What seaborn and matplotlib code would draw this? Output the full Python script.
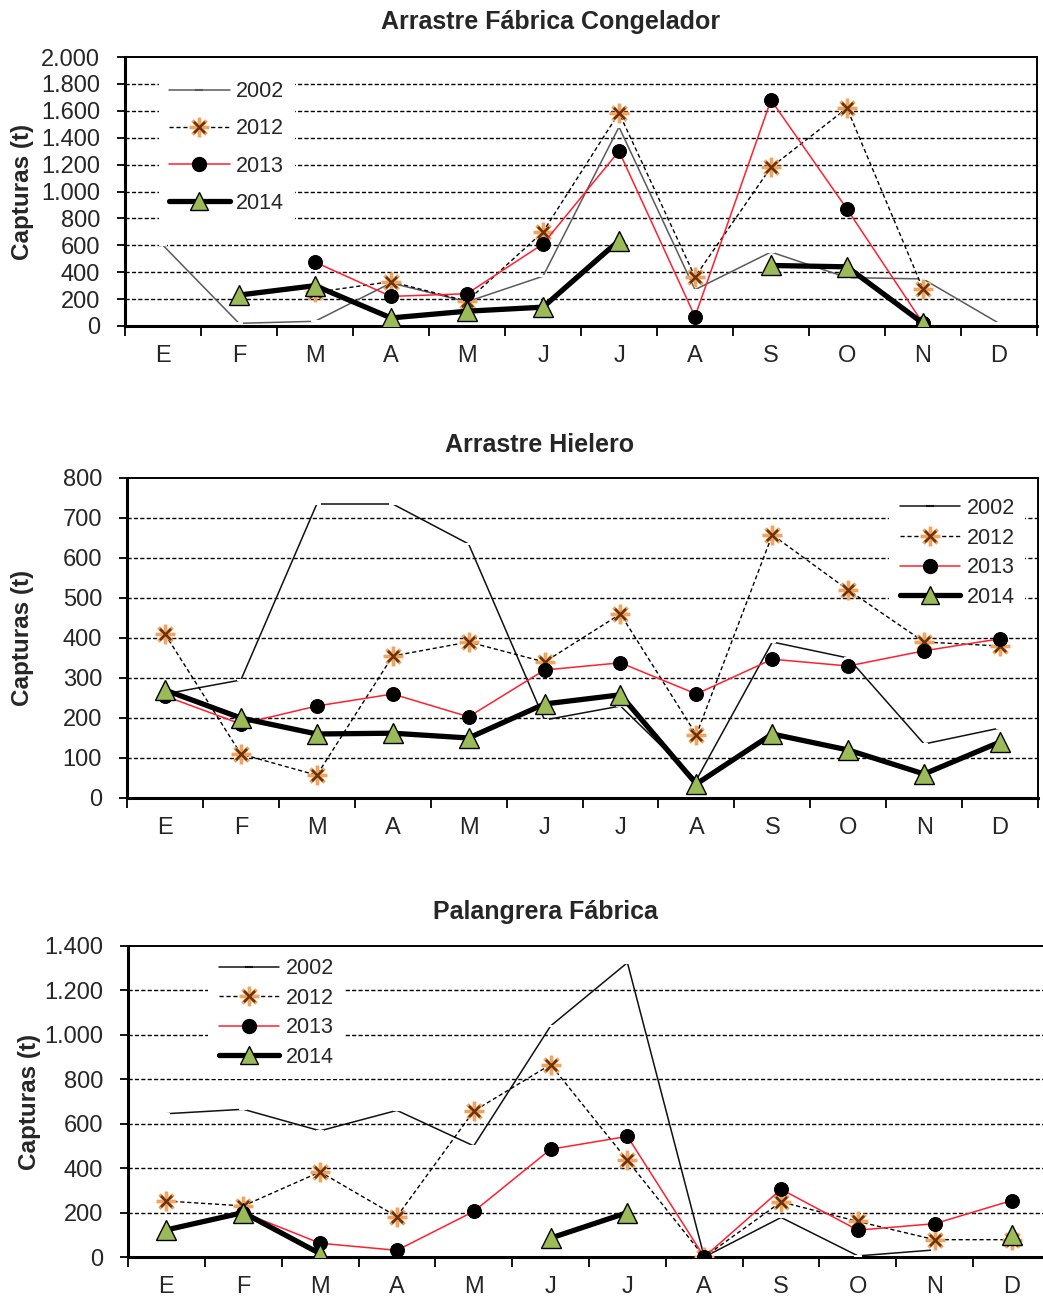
import numpy as np
import pandas as pd
import matplotlib
matplotlib.use("Agg")
import matplotlib.pyplot as plt
from matplotlib.lines import Line2D
from matplotlib.ticker import FuncFormatter, FixedLocator
import seaborn as sns

sns.set_theme(style="white")
plt.rcParams["font.family"] = ["Liberation Sans", "DejaVu Sans"]

months = ["E", "F", "M", "A", "M", "J", "J", "A", "S", "O", "N", "D"]
years = ["2002", "2012", "2013", "2014"]
nan = np.nan

# Arrastre Fábrica Congelador
afc_2002 = [600, 20, 35, 320, 180, 370, 1480, 270, 550, 360, 350, 20]
afc_2012 = [nan, nan, 250, 330, 185, 700, 1585, 365, 1180, 1620, 275, nan]
afc_2013 = [nan, nan, 475, 220, 240, 610, 1300, 70, 1680, 870, 20, nan]
afc_2014 = [nan, 230, 300, 60, 110, 140, 635, nan, 450, 440, 20, nan]

# Arrastre Hielero
ah_2002 = [260, 295, 735, 735, 635, 195, 230, 45, 390, 350, 135, 175]
ah_2012 = [410, 110, 57, 355, 390, 340, 460, 158, 658, 520, 390, 380]
ah_2013 = [255, 185, 230, 260, 203, 320, 338, 260, 347, 330, 368, 398]
ah_2014 = [270, 200, 160, 162, 150, 235, 258, 35, 160, 120, 60, 140]

# Palangrera Fábrica
pf_2002 = [645, 665, 568, 660, 500, 1040, 1325, 0, 178, 5, 32, nan]
pf_2012 = [252, 230, 383, 182, 657, 866, 435, 0, 248, 160, 78, 78]
pf_2013 = [nan, 200, 62, 30, 205, 485, 543, 0, 305, 121, 150, 254]
pf_2014 = [122, 200, 15, nan, nan, 85, 200, nan, nan, nan, nan, 100]

panels = [
    dict(title="Arrastre Fábrica Congelador",
         series=[afc_2002, afc_2012, afc_2013, afc_2014],
         ymax=2000, ystep=200, c2002="#5a5a5a",
         pos=[125, 57, 912, 269], title_xy=(551, 22), ylab_x=-0.1,
         leg=dict(loc="upper left", bbox=(0.025, 0.99), spacing=0.75)),
    dict(title="Arrastre Hielero",
         series=[ah_2002, ah_2012, ah_2013, ah_2014],
         ymax=800, ystep=100, c2002="#111111",
         pos=[127, 478, 911, 320], title_xy=(540, 445), ylab_x=-0.102,
         leg=dict(loc="upper right", bbox=(0.998, 1.005), spacing=0.4)),
    dict(title="Palangrera Fábrica",
         series=[pf_2002, pf_2012, pf_2013, pf_2014],
         ymax=1400, ystep=200, c2002="#111111",
         pos=[128, 946, 922, 311], title_xy=(545, 912), ylab_x=-0.094,
         leg=dict(loc="upper left", bbox=(0.075, 1.03), spacing=0.4)),
]

W, H = 1043, 1301
fig = plt.figure(figsize=(W / 100, H / 100), dpi=100)

ORANGE = "#f2a35e"
BROWN = "#6b3210"
GREEN = "#9bbb59"
RED = "#ff1f2f"


def runs(values):
    """Split a monthly series into contiguous runs of valid values."""
    out, cur = [], []
    for i, v in enumerate(values):
        if np.isnan(v):
            if cur:
                out.append(cur)
            cur = []
        else:
            cur.append(i)
    if cur:
        out.append(cur)
    return out


def draw_series(ax, values, **kw):
    vals = np.asarray(values, dtype=float)
    for idx in runs(vals):
        df = pd.DataFrame({"mes": idx, "capturas": vals[idx]})
        sns.lineplot(data=df, x="mes", y="capturas", ax=ax, legend=False,
                     sort=False, **kw)


def thousands(v, _):
    return f"{v:,.0f}".replace(",", ".")


for p in panels:
    x0, y0, w, h = p["pos"]
    ax = fig.add_axes([x0 / W, 1 - (y0 + h) / H, w / W, h / H])
    s2002, s2012, s2013, s2014 = p["series"]

    # dashed horizontal reference lines
    for yv in np.arange(p["ystep"], p["ymax"], p["ystep"]):
        ax.axhline(yv, color="black", lw=1.0, ls=(0, (3, 1.6)), zorder=0.5)

    draw_series(ax, s2002, color=p["c2002"], lw=1.1, marker="_",
                markersize=6, markeredgewidth=1.5, zorder=3)
    # 2012: dashed line, orange asterisk with dark cross
    draw_series(ax, s2012, color="black", lw=1.0, linestyle=(0, (3, 2)),
                zorder=3.2)
    draw_series(ax, s2012, color=ORANGE, linestyle="none", marker=(8, 2, 0),
                markersize=14, markeredgewidth=2.4, markeredgecolor=ORANGE,
                zorder=3.3)
    draw_series(ax, s2012, color=BROWN, linestyle="none", marker=(4, 2, 45),
                markersize=11, markeredgewidth=1.6, markeredgecolor=BROWN,
                zorder=3.4)
    draw_series(ax, s2013, color=RED, lw=1.1, marker="o", markersize=10,
                markerfacecolor="black", markeredgecolor="black", zorder=4)
    draw_series(ax, s2014, color="black", lw=3.8, marker="^", markersize=14,
                markerfacecolor=GREEN, markeredgecolor="black",
                markeredgewidth=1.0, zorder=5)

    ax.set_xlim(-0.5, 11.5)
    ax.set_ylim(0, p["ymax"])
    ax.xaxis.set_major_locator(FixedLocator(np.arange(-0.5, 12, 1)))
    ax.xaxis.set_minor_locator(FixedLocator(np.arange(12)))
    ax.set_xticklabels([], minor=False)
    ax.set_xticklabels(months, minor=True)
    ax.tick_params(axis="x", which="major", direction="out", length=7,
                   width=1.3, color="black", bottom=True)
    ax.tick_params(axis="x", which="minor", length=0, pad=14, labelsize=17,
                   bottom=True)
    ax.set_yticks(np.arange(0, p["ymax"] + 1, p["ystep"]))
    ax.yaxis.set_major_formatter(FuncFormatter(thousands))
    ax.tick_params(axis="y", direction="out", length=6, width=1.3,
                   color="black", left=True, labelsize=17, pad=12)
    ax.set_xlabel("")
    ax.set_ylabel("Capturas (t)", fontsize=17.5, fontweight="bold")
    ax.yaxis.set_label_coords(p["ylab_x"], 0.5)

    for side, spine in ax.spines.items():
        spine.set_visible(True)
        spine.set_color("black")
        spine.set_linewidth(2.2 if side in ("left", "bottom") else 1.4)

    handles = [
        Line2D([], [], color=p["c2002"], lw=1.1, marker="_", markersize=6,
               markeredgewidth=1.5),
        (Line2D([], [], color="black", lw=1.0, linestyle=(0, (3, 2)),
                marker=(8, 2, 0), markersize=14, markeredgewidth=2.4,
                markeredgecolor=ORANGE),
         Line2D([], [], linestyle="none", marker=(4, 2, 45), markersize=11,
                markeredgewidth=1.6, markeredgecolor=BROWN)),
        Line2D([], [], color=RED, lw=1.1, marker="o", markersize=10,
               markerfacecolor="black", markeredgecolor="black"),
        Line2D([], [], color="black", lw=3.8, marker="^", markersize=13,
               markerfacecolor=GREEN, markeredgecolor="black",
               markeredgewidth=1.0),
    ]
    lg = p["leg"]
    leg = ax.legend(handles, years, loc=lg["loc"], bbox_to_anchor=lg["bbox"],
                    fontsize=15.5, handlelength=2.8, handletextpad=0.3,
                    labelspacing=lg["spacing"], borderpad=0.5,
                    frameon=True, fancybox=False, framealpha=1.0)
    leg.get_frame().set_facecolor("white")
    leg.get_frame().set_edgecolor("none")
    leg.set_zorder(2)

    tx, ty = p["title_xy"]
    fig.text(tx / W, 1 - ty / H, p["title"], ha="center", va="center",
             fontsize=18, fontweight="bold")

fig.savefig("out.png", dpi=100, facecolor="white")
